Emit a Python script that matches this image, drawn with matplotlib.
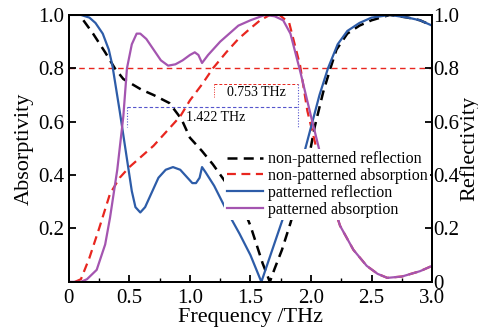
import matplotlib
matplotlib.use("Agg")
import matplotlib.pyplot as plt
from matplotlib.ticker import FixedLocator, FuncFormatter

plt.rcParams["font.family"] = "Liberation Serif"

# non-patterned reflection (black dashed)
np_refl_x = [0.12, 0.2, 0.3, 0.38, 0.45, 0.6, 0.7, 0.83, 0.93, 1.0, 1.1, 1.19, 1.3, 1.41,
             1.5, 1.6, 1.66, 1.7, 1.76, 1.83, 1.9, 1.98, 2.03, 2.1, 2.16, 2.21, 2.3, 2.4,
             2.5, 2.65, 2.8, 2.9, 3.0]
np_refl_y = [0.98, 0.93, 0.86, 0.80, 0.76, 0.72, 0.70, 0.67, 0.61, 0.54, 0.49, 0.44, 0.37, 0.31,
             0.21, 0.07, 0.0, 0.05, 0.12, 0.22, 0.33, 0.46, 0.58, 0.71, 0.80, 0.87, 0.93, 0.96,
             0.98, 1.0, 0.99, 0.98, 0.96]

# non-patterned absorption (red dashed)
np_abs_x = [0.05, 0.1, 0.17, 0.25, 0.34, 0.42, 0.5, 0.6, 0.7, 0.8, 0.92, 1.0, 1.1, 1.19,
            1.3, 1.4, 1.5, 1.58, 1.66, 1.74, 1.82, 1.91, 1.97, 2.05, 2.15, 2.24, 2.35,
            2.46, 2.55, 2.63, 2.75, 2.9, 3.0]
np_abs_y = [0.0, 0.01, 0.09, 0.2, 0.33, 0.39, 0.43, 0.47, 0.51, 0.56, 0.62, 0.68, 0.74, 0.80,
            0.86, 0.91, 0.95, 0.98, 1.0, 1.0, 0.97, 0.81, 0.64, 0.49, 0.33, 0.21, 0.12,
            0.06, 0.03, 0.015, 0.02, 0.04, 0.06]

# patterned reflection (blue)
p_refl_x = [0.0, 0.1, 0.17, 0.22, 0.28, 0.33, 0.36, 0.42, 0.48, 0.52, 0.55, 0.59, 0.63,
            0.68, 0.74, 0.8, 0.86, 0.92, 0.98, 1.02, 1.05, 1.08, 1.1, 1.13, 1.2, 1.3, 1.41,
            1.5, 1.59, 1.68, 1.77, 1.85, 1.93, 2.0, 2.07, 2.14, 2.22, 2.3, 2.4, 2.5, 2.65,
            2.8, 2.9, 3.0]
p_refl_y = [1.0, 1.0, 0.99, 0.97, 0.93, 0.87, 0.81, 0.64, 0.46, 0.34, 0.28, 0.26, 0.28,
            0.33, 0.39, 0.42, 0.43, 0.42, 0.39, 0.37, 0.37, 0.39, 0.43, 0.41, 0.36, 0.27, 0.18,
            0.10, 0.0, 0.12, 0.24, 0.35, 0.46, 0.58, 0.70, 0.80, 0.89, 0.94, 0.97, 0.99, 1.0,
            0.99, 0.98, 0.96]

# patterned absorption (purple)
p_abs_x = [0.0, 0.1, 0.15, 0.23, 0.3, 0.34, 0.4, 0.45, 0.48, 0.52, 0.56, 0.59, 0.64,
           0.7, 0.76, 0.82, 0.88, 0.94, 1.0, 1.04, 1.07, 1.1, 1.15, 1.25, 1.4, 1.5, 1.62,
           1.7, 1.77, 1.83, 1.91, 2.0, 2.06, 2.15, 2.24, 2.35, 2.46, 2.55, 2.63, 2.75, 2.9, 3.0]
p_abs_y = [0.0, 0.0, 0.01, 0.045, 0.14, 0.24, 0.42, 0.62, 0.80, 0.89, 0.93, 0.93, 0.91,
           0.87, 0.83, 0.81, 0.815, 0.83, 0.85, 0.86, 0.85, 0.82, 0.85, 0.90, 0.96, 0.98, 1.0,
           0.995, 0.98, 0.93, 0.79, 0.62, 0.51, 0.34, 0.21, 0.12, 0.06, 0.03, 0.015, 0.02, 0.04, 0.06]

RED = "#e8261f"
BLUE = "#2d5ca8"
PURPLE = "#a455b0"

fig = plt.figure(figsize=(4.78, 3.32), dpi=100)
ax = fig.add_axes([0.144, 0.151, 0.76, 0.804])

ax.axhline(0.8, color=RED, linestyle=(0, (4, 3)), linewidth=1.0, zorder=1)

# bandwidth markers
ax.plot([1.2, 1.89], [0.742, 0.742], color=RED, linestyle=(0, (3, 2)), linewidth=0.7)
ax.plot([1.2, 1.2], [0.742, 0.693], color=RED, linestyle=(0, (1, 1.5)), linewidth=0.7)
ax.text(1.55, 0.708, "0.753 THz", fontsize=10, ha="center", va="center")
ax.plot([0.48, 1.89], [0.655, 0.655], color="#5555cc", linestyle=(0, (3, 2)), linewidth=0.8)
ax.plot([0.48, 0.48], [0.655, 0.58], color="#5555cc", linestyle=(0, (1, 1.5)), linewidth=0.8)
ax.plot([1.89, 1.89], [0.742, 0.58], color="#5555cc", linestyle=(0, (1, 1.5)), linewidth=0.8)
ax.text(1.21, 0.617, "1.422 THz", fontsize=10, ha="center", va="center")

l1, = ax.plot(np_refl_x, np_refl_y, color="black", linestyle=(0, (4, 2.5)), linewidth=1.8,
              label="non-patterned reflection")
l2, = ax.plot(np_abs_x, np_abs_y, color=RED, linestyle=(0, (4, 2.5)), linewidth=1.6,
              label="non-patterned absorption")
l3, = ax.plot(p_refl_x, p_refl_y, color=BLUE, linewidth=1.6, label="patterned reflection")
l4, = ax.plot(p_abs_x, p_abs_y, color=PURPLE, linewidth=1.6, label="patterned absorption")

ax.set_xlim(0, 3.0)
ax.set_ylim(0, 1.0)
ax.set_xticks([0, 0.5, 1.0, 1.5, 2.0, 2.5, 3.0])
ax.set_xticklabels(["0", "0.5", "1.0", "1.5", "2.0", "2.5", "3.0"])
ax.xaxis.set_minor_locator(FixedLocator([0.25, 0.75, 1.25, 1.75, 2.25, 2.75]))
ax.set_yticks([0.2, 0.4, 0.6, 0.8, 1.0])
ax.yaxis.set_major_formatter(FuncFormatter(lambda v, p: f"{v:.1f}"))
ax.tick_params(direction="in", labelsize=15, width=1.3, length=5)
ax.tick_params(axis="x", pad=5)
ax.tick_params(which="minor", direction="in", width=1.0, length=3)
ax.set_xlabel("Frequency /THz", fontsize=16, labelpad=0)
ax.set_ylabel("Absorptivity", fontsize=16, labelpad=3)

ax2 = ax.twinx()
ax2.set_ylim(0, 1.0)
ax2.set_yticks([0, 0.2, 0.4, 0.6, 0.8, 1.0])
ax2.set_yticklabels(["0", "0.2", "0.4", "0.6", "0.8", "1.0"])
ax2.tick_params(direction="in", labelsize=15, width=1.3, length=5, pad=1)
ax2.set_ylabel("Reflectivity", fontsize=16, labelpad=0)

for a in (ax, ax2):
    for s in a.spines.values():
        s.set_linewidth(1.4)

leg = ax2.legend(handles=[l1, l2, l3, l4], loc="center right", bbox_to_anchor=(0.995, 0.365),
                 frameon=True, fontsize=11.5, handlelength=2.3, handletextpad=0.3,
                 labelspacing=0.05, borderpad=0.15, borderaxespad=0)
leg.get_frame().set_edgecolor("none")
leg.get_frame().set_facecolor("white")
leg.get_frame().set_alpha(1.0)

fig.savefig("out.png", dpi=100)
